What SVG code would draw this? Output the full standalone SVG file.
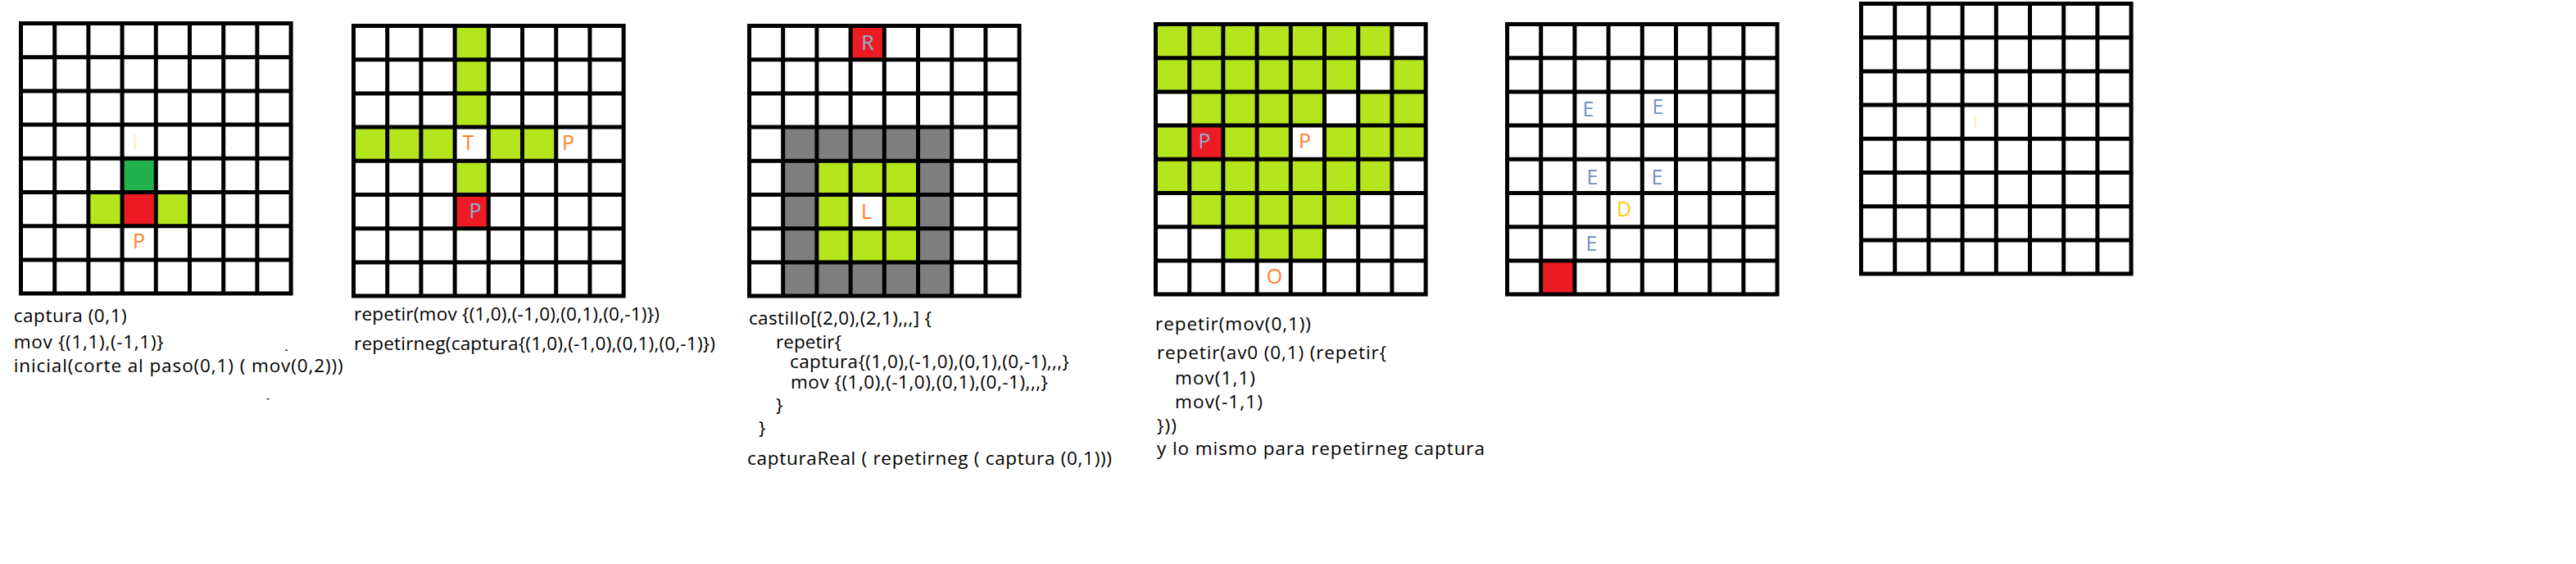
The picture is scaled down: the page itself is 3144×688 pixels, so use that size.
<svg xmlns="http://www.w3.org/2000/svg" width="3144" height="688" viewBox="0 0 3144 688">
<style>
.lime{fill:#B5E61D}
.red{fill:#ED1C24}
.dg{fill:#22B14C}
.gray{fill:#7F7F7F}
.lbl{font-family:"Open Sans","Noto Sans",sans-serif;font-size:25px;text-anchor:middle}
.or{fill:#FF7F27}
.bl{fill:#7092BE}
.lb{fill:#8DB3D8}
.gd{fill:#FFC90E}
.code{font-family:"Open Sans","Noto Sans",sans-serif;font-size:22.5px;fill:#000}
.ghost{fill:#FFE08A}
</style>
<defs>
<path id="grid" fill="none" stroke="#000" stroke-width="5" d="M0 2.5H334.6M0 43.7H334.6M0 84.9H334.6M0 126.1H334.6M0 167.3H334.6M0 208.5H334.6M0 249.7H334.6M0 290.9H334.6M0 332.1H334.6M2.5 0V334.6M43.7 0V334.6M84.9 0V334.6M126.1 0V334.6M167.3 0V334.6M208.5 0V334.6M249.7 0V334.6M290.9 0V334.6M332.1 0V334.6"/>
</defs>
<rect width="3144" height="688" fill="#fff"/>

<g id="grid1" transform="translate(23,26)">
  <rect class="dg" x="126.1" y="167.3" width="41.2" height="41.2"/>
  <rect class="lime" x="84.9" y="208.5" width="41.2" height="41.2"/>
  <rect class="red" x="126.1" y="208.5" width="41.2" height="41.2"/>
  <rect class="lime" x="167.3" y="208.5" width="41.2" height="41.2"/>
  <rect class="ghost" x="141" y="138" width="1.2" height="18"/>
  <rect class="ghost" x="259" y="138" width="1.2" height="1.5"/>
  <rect class="ghost" x="259" y="154" width="1.2" height="2"/>
  <use href="#grid"/>
  <text class="lbl or" x="146.5" y="277">P</text>
</g>

<g id="grid2" transform="translate(429,29)">
  <rect class="lime" x="126.1" y="2.5" width="41.2" height="123.6"/>
  <rect class="lime" x="2.5" y="126.1" width="123.6" height="41.2"/>
  <rect class="lime" x="167.3" y="126.1" width="82.4" height="41.2"/>
  <rect class="lime" x="126.1" y="167.3" width="41.2" height="41.2"/>
  <rect class="red" x="126.1" y="208.5" width="41.2" height="41.2"/>
  <use href="#grid"/>
  <text class="lbl or" x="142.5" y="154">T</text>
  <text class="lbl or" x="264.5" y="154">P</text>
  <text class="lbl lb" x="151" y="237">P</text>
</g>

<g id="grid3" transform="translate(912,29)">
  <rect class="red" x="126.1" y="2.5" width="41.2" height="41.2"/>
  <rect class="gray" x="43.7" y="126.1" width="206" height="206"/>
  <rect class="lime" x="84.9" y="167.3" width="123.6" height="123.6"/>
  <rect fill="#fff" x="126.1" y="208.5" width="41.2" height="41.2"/>
  <use href="#grid"/>
  <text class="lbl lb" x="147" y="32">R</text>
  <text class="lbl or" x="145.5" y="238">L</text>
</g>

<g id="grid4" transform="translate(1408,27)">
  <rect class="lime" x="2.5" y="2.5" width="288.4" height="41.2"/>
  <rect class="lime" x="2.5" y="43.7" width="247.2" height="41.2"/>
  <rect class="lime" x="290.9" y="43.7" width="41.2" height="41.2"/>
  <rect class="lime" x="43.7" y="84.9" width="164.8" height="41.2"/>
  <rect class="lime" x="249.7" y="84.9" width="82.4" height="41.2"/>
  <rect class="lime" x="2.5" y="126.1" width="41.2" height="41.2"/>
  <rect class="red" x="43.7" y="126.1" width="41.2" height="41.2"/>
  <rect class="lime" x="84.9" y="126.1" width="82.4" height="41.2"/>
  <rect class="lime" x="208.5" y="126.1" width="123.6" height="41.2"/>
  <rect class="lime" x="2.5" y="167.3" width="288.4" height="41.2"/>
  <rect class="lime" x="43.7" y="208.5" width="206" height="41.2"/>
  <rect class="lime" x="84.9" y="249.7" width="123.6" height="41.2"/>
  <use href="#grid"/>
  <text class="lbl lb" x="62" y="154">P</text>
  <text class="lbl or" x="184.5" y="154">P</text>
  <text class="lbl or" x="147.5" y="319">O</text>
</g>

<g id="grid5" transform="translate(1837,27)">
  <rect class="red" x="43.7" y="290.9" width="41.2" height="41.2"/>
  <use href="#grid"/>
  <text class="lbl bl" x="101.5" y="115">E</text>
  <text class="lbl bl" x="186.5" y="112">E</text>
  <text class="lbl bl" x="106.5" y="198">E</text>
  <text class="lbl bl" x="185.5" y="198">E</text>
  <text class="lbl gd" x="145" y="237">D</text>
  <text class="lbl bl" x="105.5" y="279">E</text>
</g>

<g id="grid6" transform="translate(2269,2)">
  <rect class="ghost" x="141" y="139" width="1.2" height="16"/>
  <rect class="ghost" x="259" y="137" width="1.2" height="1.5"/>
  <rect class="ghost" x="259" y="153" width="1.2" height="2"/>
  <use href="#grid"/>
</g>

<g id="text1" class="code">
  <text x="16.7" y="393" textLength="138" lengthAdjust="spacing">captura (0,1)</text>
  <text x="16.7" y="425" textLength="183" lengthAdjust="spacing">mov {(1,1),(-1,1)}</text>
  <text x="16.7" y="454" textLength="402" lengthAdjust="spacing">inicial(corte al paso(0,1) ( mov(0,2)))</text>
  <rect x="348" y="426.5" width="3" height="1.5" fill="#333"/>
  <rect x="325.5" y="486" width="3" height="1.5" fill="#333"/>
</g>

<g id="text2" class="code">
  <text x="432" y="391" textLength="373" lengthAdjust="spacing">repetir(mov {(1,0),(-1,0),(0,1),(0,-1)})</text>
  <text x="432" y="427" textLength="441" lengthAdjust="spacing">repetirneg(captura{(1,0),(-1,0),(0,1),(0,-1)})</text>
</g>

<g id="text3" class="code">
  <text x="914" y="396" textLength="223" lengthAdjust="spacing">castillo[(2,0),(2,1),,,] {</text>
  <text x="947" y="425" textLength="80" lengthAdjust="spacing">repetir{</text>
  <text x="964" y="449" textLength="341" lengthAdjust="spacing">captura{(1,0),(-1,0),(0,1),(0,-1),,,}</text>
  <text x="965" y="474" textLength="314" lengthAdjust="spacing">mov {(1,0),(-1,0),(0,1),(0,-1),,,}</text>
  <text x="947" y="502">}</text>
  <text x="926" y="530">}</text>
  <text x="912" y="567" textLength="445" lengthAdjust="spacing">capturaReal ( repetirneg ( captura (0,1)))</text>
</g>

<g id="text4" class="code">
  <text x="1410" y="403" textLength="190" lengthAdjust="spacing">repetir(mov(0,1))</text>
  <text x="1412" y="438" textLength="280" lengthAdjust="spacing">repetir(av0 (0,1) (repetir{</text>
  <text x="1434" y="469" textLength="98" lengthAdjust="spacing">mov(1,1)</text>
  <text x="1434" y="498" textLength="107" lengthAdjust="spacing">mov(-1,1)</text>
  <text x="1412" y="527" textLength="24" lengthAdjust="spacing">}))</text>
  <text x="1412" y="555" textLength="400" lengthAdjust="spacing">y lo mismo para repetirneg captura</text>
</g>

<g id="connectors"/>
</svg>
